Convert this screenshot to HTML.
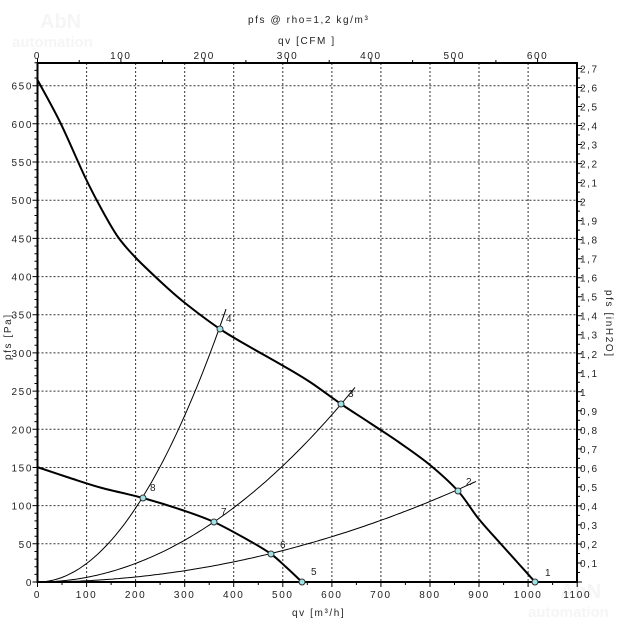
<!DOCTYPE html>
<html><head><meta charset="utf-8"><style>
html,body{margin:0;padding:0;background:#fff;width:624px;height:624px;overflow:hidden}
svg{display:block}
text{font-family:"Liberation Sans",sans-serif;font-size:10px;fill:#222;letter-spacing:1.6px}
</style></head><body>
<svg id="s" width="624" height="624" viewBox="0 0 624 624" xmlns="http://www.w3.org/2000/svg">
<text x="40" y="28" style="font-size:20px;font-weight:bold;fill:#f5f5f5;letter-spacing:0">AbN</text>
<text x="12" y="47" style="font-size:15px;font-weight:bold;fill:#f5f5f5;letter-spacing:0">automation</text>
<text x="560" y="598" style="font-size:20px;font-weight:bold;fill:#f5f5f5;letter-spacing:0">AbN</text>
<text x="528" y="617" style="font-size:15px;font-weight:bold;fill:#f5f5f5;letter-spacing:0">automation</text>
<g id="g"></g>
<text x="248" y="23">pfs @ rho=1,2 kg/m³</text>
<text x="278" y="44">qv [CFM ]</text>
<text x="292" y="616">qv [m³/h]</text>
<text transform="translate(11,360) rotate(-90)">pfs [Pa]</text>
<text transform="translate(606,290) rotate(90)">pfs [inH2O]</text>
</svg>
<script>
var g=document.getElementById('g'),h='';
var L=37.5,R=577,T=63,B=582;
function X(q){return L+0.4906*q}function Y(p){return B-0.7636*p}
var d='';
for(var q=100;q<=1000;q+=100){var x=X(q).toFixed(1);d+='M'+x+' '+T+'V'+B;}
for(var p=50;p<=650;p+=50){var y=Y(p).toFixed(1);d+='M'+L+' '+y+'H'+R;}
h+='<path d="'+d+'" stroke="#333" stroke-width="1" stroke-dasharray="2,2" fill="none"/>';
var t='';
for(var q=0;q<=1100;q+=50){t+='M'+X(q).toFixed(1)+' '+B+'v'+(q%100?3:5);}
for(var p=0;p<=680;p+=10){t+='M'+L+' '+Y(p).toFixed(1)+'h'+(p%50?-3:-5);}
for(var c=0;c<=650;c+=50){var x=X(c*1.699);if(x<=R)t+='M'+x.toFixed(1)+' '+T+'v'+(c%100?-3:-5);}
for(var i=0;i<=54;i++){var y=B-190.2*i*0.05;if(y>=T)t+='M'+R+' '+y.toFixed(1)+'h'+(i%2?3:5);}
h+='<path d="'+t+'" stroke="#000" stroke-width="1" fill="none"/>';
h+='<rect x="'+L+'" y="'+T+'" width="'+(R-L)+'" height="'+(B-T)+'" fill="none" stroke="#000" stroke-width="2"/>';
for(var q=0;q<=1100;q+=100)h+='<text x="'+X(q)+'" y="598" text-anchor="middle">'+q+'</text>';
for(var p=0;p<=650;p+=50)h+='<text x="33" y="'+(Y(p)+4)+'" text-anchor="end">'+p+'</text>';
for(var c=0;c<=600;c+=100)h+='<text x="'+X(c*1.699)+'" y="59" text-anchor="middle">'+c+'</text>';
for(var i=1;i<=27;i++){var v=(i/10).toFixed(1).replace('.',',').replace(',0','');if(i%10==0)v=String(i/10);h+='<text x="580" y="'+(B-190.2*i/10+4)+'">'+v+'</text>';}
function par(k,x1){var s='M'+L+' '+B;for(var x=L;x<=x1;x+=3)s+='L'+x.toFixed(1)+' '+(B-k*(x-L)*(x-L)).toFixed(1);s+='L'+x1+' '+(B-k*(x1-L)*(x1-L)).toFixed(1);return s;}
function cr(P){var s='M'+P[0][0]+' '+P[0][1];for(var i=0;i<P.length-1;i++){var p0=P[Math.max(0,i-1)],p1=P[i],p2=P[i+1],p3=P[Math.min(P.length-1,i+2)];
s+='C'+(p1[0]+(p2[0]-p0[0])/6).toFixed(1)+' '+(p1[1]+(p2[1]-p0[1])/6).toFixed(1)+' '+(p2[0]-(p3[0]-p1[0])/6).toFixed(1)+' '+(p2[1]-(p3[1]-p1[1])/6).toFixed(1)+' '+p2[0]+' '+p2[1];}return s;}
h+='<path d="'+par(0.00768,226)+par(0.00193,355)+par(0.000523,476)+'M'+L+' '+B+'L300 581.5" stroke="#000" stroke-width="1" fill="none"/>';
var m=[[37,79],[60,122],[85,177],[102,210],[118,237],[135,257],[162,283],[185,303],[220,329],[250,347],[280,364],[310,382],[341,404],[370,423],[400,443],[430,465],[458,491],[478,518],[500,543],[518,563],[535,582]];
var lo=[[37,467],[70,478],[102,488],[143,498],[182,510],[214,522],[248,540],[271,554],[286,567],[302,582]];
h+='<path d="'+cr(m)+'" stroke="#000" stroke-width="2" fill="none"/>';
h+='<path d="'+cr(lo)+'" stroke="#000" stroke-width="2" fill="none"/>';
var pts=[[535,582,'1',545,576],[458,491,'2',466,485],[341,404,'3',348,397],[220,329,'4',226,322],[302,582,'5',311,575],[271,554,'6',280,548],[214,522,'7',221,515],[143,498,'8',150,491]];
pts.forEach(function(a){h+='<circle cx="'+a[0]+'" cy="'+a[1]+'" r="3" fill="#9ee3e8" stroke="#333" stroke-width="1"/>';h+='<text x="'+a[3]+'" y="'+a[4]+'">'+a[2]+'</text>';});
g.innerHTML=h;
</script>
</body></html>
